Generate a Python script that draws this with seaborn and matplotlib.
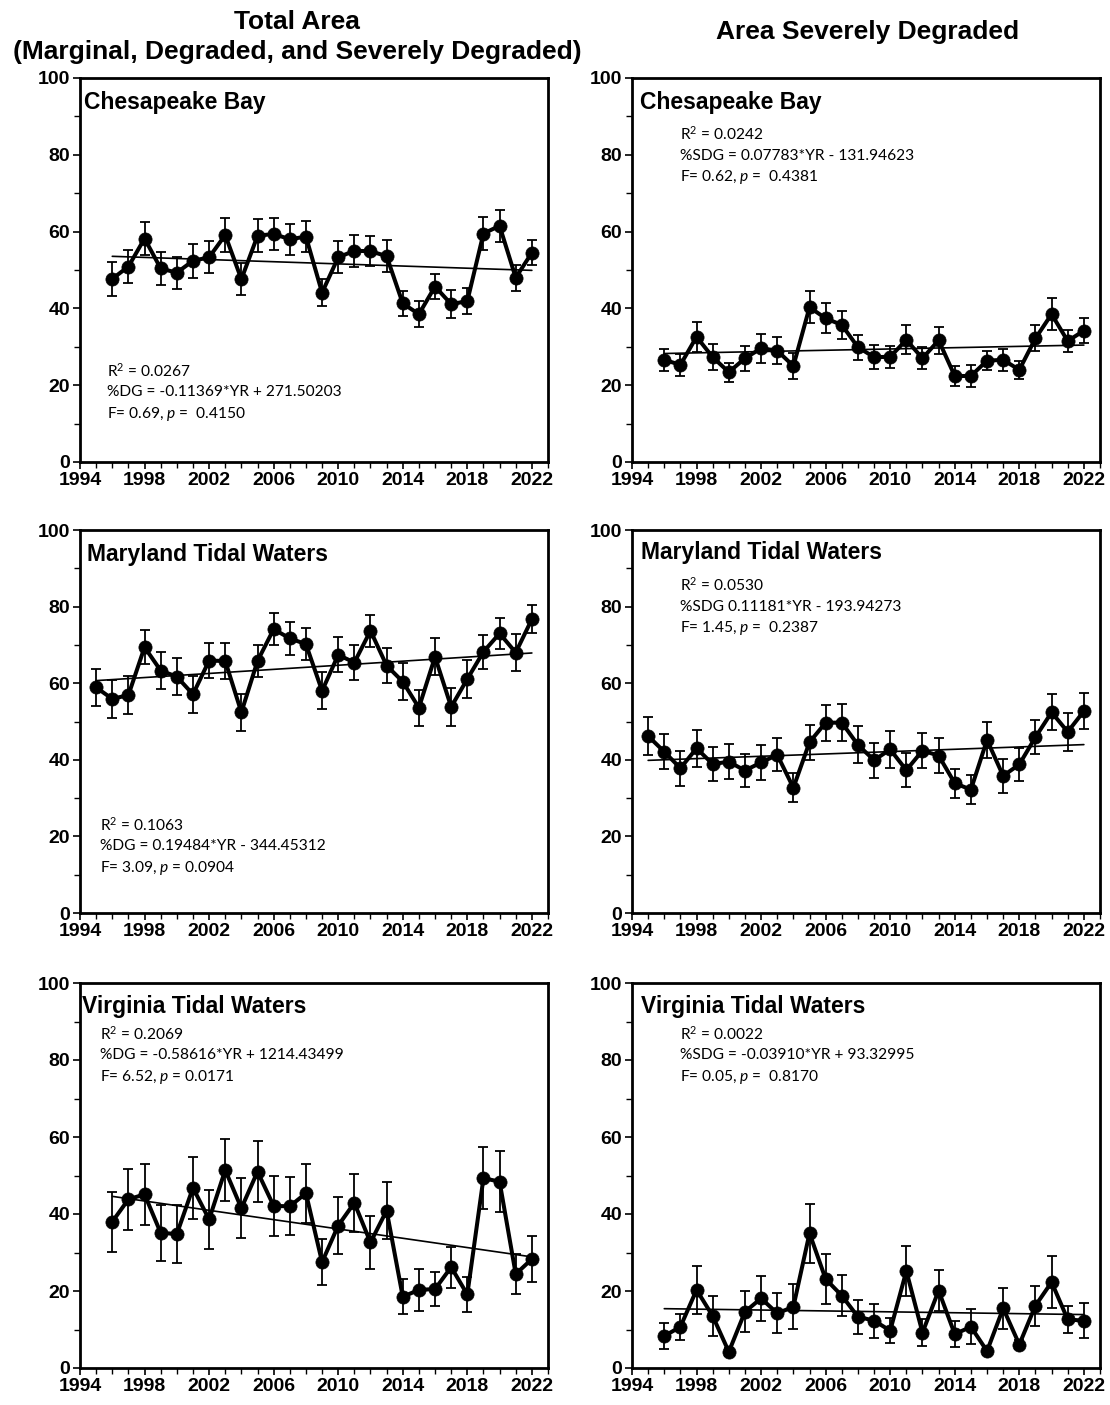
import numpy as np
import pandas as pd
import seaborn as sns
import matplotlib.pyplot as plt
from matplotlib.ticker import MultipleLocator, FixedLocator

# ---- survey years ----
years_95 = list(range(1995, 2023))
years_96 = list(range(1996, 2023))

# ---- Chesapeake Bay: total area (% marginal + degraded + severely degraded) ----
cb_total = [47.7, 50.9, 58.2, 50.4, 49.3, 52.4, 53.3, 59.1, 47.6, 58.9, 59.4, 58.0, 58.7, 44.1,
            53.3, 55.0, 54.9, 53.6, 41.3, 38.5, 45.7, 41.1, 41.9, 59.5, 61.5, 48.0, 54.5]
cb_total_err = [4.4, 4.4, 4.3, 4.2, 4.2, 4.4, 4.2, 4.4, 4.2, 4.3, 4.2, 4.1, 4.1, 3.5,
                4.2, 4.2, 3.9, 4.1, 3.3, 3.4, 3.2, 3.6, 3.3, 4.3, 4.2, 3.4, 3.3]

# ---- Chesapeake Bay: severely degraded area ----
cb_severe = [26.6, 25.3, 32.6, 27.3, 23.4, 27.0, 29.6, 29.0, 25.0, 40.3, 37.4, 35.7, 29.9, 27.3,
             27.4, 31.8, 27.0, 31.7, 22.4, 22.4, 26.4, 26.6, 24.0, 32.2, 38.5, 31.5, 34.2]
cb_severe_err = [2.8, 2.9, 3.9, 3.4, 2.5, 3.3, 3.7, 3.5, 3.3, 4.2, 3.9, 3.6, 3.3, 3.2,
                 2.9, 3.8, 2.9, 3.5, 2.6, 2.9, 2.5, 2.9, 2.4, 3.4, 4.1, 2.9, 3.3]

# ---- Maryland tidal waters ----
md_total = [58.9, 55.9, 56.9, 69.4, 63.3, 61.7, 57.1, 65.9, 65.8, 52.4, 65.8, 74.1, 71.7, 70.2,
            58.0, 67.4, 65.4, 73.7, 64.6, 60.4, 53.6, 66.9, 53.8, 61.1, 68.2, 73.0, 68.0, 76.7]
md_total_err = [4.9, 4.9, 4.9, 4.4, 4.8, 4.8, 4.8, 4.5, 4.6, 4.8, 4.3, 4.1, 4.3, 4.2,
                4.8, 4.6, 4.6, 4.2, 4.6, 4.9, 4.7, 4.8, 4.9, 4.9, 4.4, 4.0, 4.8, 3.6]

md_severe = [46.2, 42.1, 37.8, 43.0, 38.9, 39.5, 37.2, 39.3, 41.3, 32.7, 44.6, 49.7, 49.7, 43.9,
             39.9, 42.7, 37.3, 42.4, 41.1, 33.9, 32.2, 45.2, 35.8, 38.8, 45.9, 52.4, 47.3, 52.7]
md_severe_err = [4.9, 4.6, 4.6, 4.8, 4.5, 4.6, 4.3, 4.6, 4.3, 3.8, 4.6, 4.7, 4.8, 4.8,
                 4.6, 4.8, 4.5, 4.6, 4.6, 3.8, 3.8, 4.6, 4.5, 4.3, 4.4, 4.7, 5.0, 4.7]

# ---- Virginia tidal waters ----
va_total = [38.0, 43.8, 45.1, 35.1, 34.8, 46.8, 38.6, 51.4, 41.5, 51.0, 42.1, 42.0, 45.4, 27.5,
            37.0, 42.9, 32.6, 40.9, 18.5, 20.3, 20.5, 26.2, 19.1, 49.3, 48.4, 24.4, 28.3]
va_total_err = [7.8, 7.9, 7.9, 7.3, 7.5, 8.0, 7.7, 8.0, 7.8, 8.0, 7.9, 7.5, 7.7, 6.0,
                7.5, 7.5, 6.8, 7.5, 4.5, 5.4, 4.5, 5.3, 4.5, 8.0, 8.0, 5.3, 6.0]

va_severe = [8.3, 10.7, 20.3, 13.5, 4.2, 14.6, 18.1, 14.2, 15.9, 35.0, 23.1, 18.8, 13.3, 12.3,
             9.7, 25.2, 9.2, 20.1, 8.8, 10.7, 4.4, 15.5, 6.1, 16.2, 22.3, 12.6, 12.3]
va_severe_err = [3.3, 3.4, 6.3, 5.3, 1.0, 5.3, 5.8, 5.2, 5.8, 7.7, 6.4, 5.3, 4.4, 4.4,
                 3.3, 6.4, 3.5, 5.3, 3.3, 4.5, 1.0, 5.3, 1.2, 5.2, 6.8, 3.5, 4.5]

# ---- panel labels and regression summaries ----
column_titles = ["Total Area\n(Marginal, Degraded, and Severely Degraded)", "Area Severely Degraded"]
region_names = ["Chesapeake Bay", "Maryland Tidal Waters", "Virginia Tidal Waters"]
stats_total = [
    ["R$^{2}$ = 0.0267", "%DG = -0.11369*YR + 271.50203", "F= 0.69, $\\mathit{p}$ =  0.4150"],
    ["R$^{2}$ = 0.1063", "%DG = 0.19484*YR - 344.45312", "F= 3.09, $\\mathit{p}$ = 0.0904"],
    ["R$^{2}$ = 0.2069", "%DG = -0.58616*YR + 1214.43499", "F= 6.52, $\\mathit{p}$ = 0.0171"],
]
stats_severe = [
    ["R$^{2}$ = 0.0242", "%SDG = 0.07783*YR - 131.94623", "F= 0.62, $\\mathit{p}$ =  0.4381"],
    ["R$^{2}$ = 0.0530", "%SDG 0.11181*YR - 193.94273", "F= 1.45, $\\mathit{p}$ =  0.2387"],
    ["R$^{2}$ = 0.0022", "%SDG = -0.03910*YR + 93.32995", "F= 0.05, $\\mathit{p}$ =  0.8170"],
]

sns.set_theme(style="ticks")
plt.rcParams["font.family"] = ["Liberation Sans", "DejaVu Sans"]
plt.rcParams["text.color"] = "black"
plt.rcParams["axes.labelcolor"] = "black"
plt.rcParams["xtick.color"] = "black"
plt.rcParams["ytick.color"] = "black"
plt.rcParams["mathtext.fontset"] = "custom"
plt.rcParams["mathtext.rm"] = "Lato"
plt.rcParams["mathtext.it"] = "Lato:italic"

W, H = 1110, 1405
fig = plt.figure(figsize=(W / 100, H / 100), dpi=100)
fig.patch.set_facecolor("white")

col_left = [80, 632]
row_top = [78, 530, 983]
row_bottom = [462, 913, 1368]
ax_w = 468

# text anchors in axes fraction (title, stats block)
title_pos = [[(0.009, 0.937), (0.017, 0.937)],
             [(0.015, 0.937), (0.019, 0.942)],
             [(0.004, 0.938), (0.019, 0.938)]]
stats_pos = [[(0.058, 0.237), (0.103, 0.854)],
             [(0.043, 0.230), (0.103, 0.856)],
             [(0.043, 0.868), (0.103, 0.868)]]

panels = [
    [(years_96, cb_total, cb_total_err), (years_96, cb_severe, cb_severe_err)],
    [(years_95, md_total, md_total_err), (years_95, md_severe, md_severe_err)],
    [(years_96, va_total, va_total_err), (years_96, va_severe, va_severe_err)],
]
stats_all = [[stats_total[i], stats_severe[i]] for i in range(3)]


def draw_panel(ax, years, vals, errs, title, stats, tpos, spos):
    df = pd.DataFrame({"year": years, "value": vals})
    ax.errorbar(years, vals, yerr=errs, fmt="none", ecolor="black",
                elinewidth=1.3, capsize=3.3, capthick=1.3, zorder=2)
    sns.regplot(data=df, x="year", y="value", scatter=False, ci=None, ax=ax,
                line_kws=dict(color="black", lw=1.2, zorder=3))
    sns.lineplot(data=df, x="year", y="value", ax=ax, color="black", lw=2.9,
                 marker="o", markersize=9.5, markeredgecolor="black",
                 markeredgewidth=0.5, zorder=4)
    ax.set_xlim(1994, 2023)
    ax.set_ylim(0, 100)
    ax.xaxis.set_major_locator(FixedLocator(list(range(1994, 2023, 4))))
    ax.xaxis.set_minor_locator(MultipleLocator(1))
    ax.yaxis.set_major_locator(MultipleLocator(20))
    ax.yaxis.set_minor_locator(MultipleLocator(10))
    ax.tick_params(axis="both", which="major", direction="out", length=5,
                   width=1.2, color="black", labelcolor="black", labelsize=14, pad=2)
    ax.tick_params(axis="both", which="minor", direction="out", length=4,
                   width=1.0, color="black")
    for lab in ax.get_xticklabels() + ax.get_yticklabels():
        lab.set_fontweight("bold")
    ax.set_xlabel("")
    ax.set_ylabel("")
    for sp in ax.spines.values():
        sp.set_visible(True)
        sp.set_color("black")
        sp.set_linewidth(2.0)
    ax.set_facecolor("white")
    ax.text(tpos[0], tpos[1], title, transform=ax.transAxes, fontsize=16.5,
            fontweight="bold", color="black", ha="left", va="center")
    for k, line in enumerate(stats):
        ax.text(spos[0], spos[1] - k * 0.056, line, transform=ax.transAxes,
                fontsize=11.2, family=["Lato", "DejaVu Sans"], color="black",
                ha="left", va="center")


for r in range(3):
    for c in range(2):
        left = col_left[c] / W
        bottom = 1 - row_bottom[r] / H
        height = (row_bottom[r] - row_top[r]) / H
        ax = fig.add_axes([left, bottom, ax_w / W, height])
        years, vals, errs = panels[r][c]
        draw_panel(ax, years, vals, errs, region_names[r], stats_all[r][c],
                   title_pos[r][c], stats_pos[r][c])

fig.text(297 / W, 1 - 37 / H, column_titles[0], ha="center", va="center",
         fontsize=19, fontweight="bold", color="black", linespacing=1.3)
fig.text(868 / W, 1 - 32 / H, column_titles[1], ha="center", va="center",
         fontsize=19, fontweight="bold", color="black")

fig.savefig("out.png", dpi=100, facecolor="white")
